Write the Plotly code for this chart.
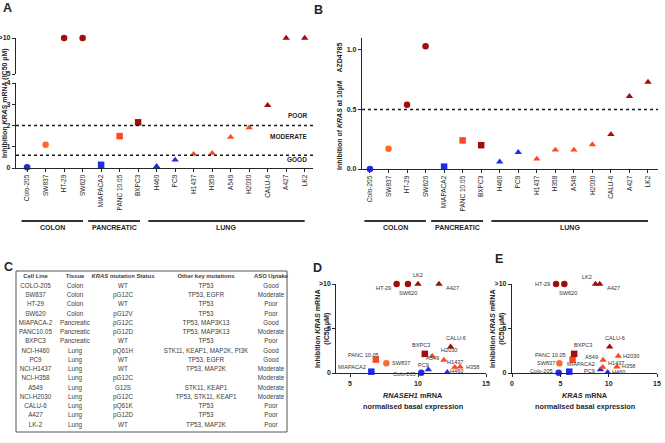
import plotly.graph_objects as go

# ---- data ----
cell_lines = ["Colo-205", "SW837", "HT-29", "SW620", "MIAPACA2", "PANC 10.05", "BXPC3",
              "H460", "PC9", "H1437", "H358", "A549", "H2030", "CALU-6", "A427", "LK2"]
tissue = ["Colon"] * 4 + ["Pancreatic"] * 3 + ["Lung"] * 9
aso_uptake = ["Good", "Moderate", "Poor", "Poor", "Good", "Moderate", "Poor", "Good",
              "Good", "Moderate", "Moderate", "Moderate", "Moderate", "Poor", "Poor", "Poor"]
ic50_um = [0.03, 1.1, 10, 10, 0.15, 1.5, 2.15, 0.08, 0.38, 0.65, 0.7, 1.45, 1.9, 2.95, 10, 10]
inhib_10um = [0.0, 0.17, 0.54, 1.03, 0.02, 0.24, 0.20, 0.06, 0.14, 0.085, 0.16, 0.16, 0.205, 0.29, 0.61, 0.73]
rnaseh1_expr = [10.24, 7.67, 8.43, 9.26, 6.57, 6.9, 10.5, 12.15, 10.76, 12.7, 13.1, 11.9, 11.05, 12.4, 11.54, 10.0]
kras_expr = [4.83, 4.9, 4.56, 5.41, 5.92, 6.26, 6.43, 9.9, 9.15, 9.39, 10.85, 9.42, 11.0, 10.1, 9.08, 8.64]

ic50_thresholds = [0.6, 2.0]
zone_names = ["GOOD", "MODERATE", "POOR"]
inhib_threshold = 0.5
group_names = ["COLON", "PANCREATIC", "LUNG"]

table_header = ["Cell Line", "Tissue", "<i>KRAS</i> mutation Status", "Other key mutations", "ASO Uptake"]
table_cell_line = ["COLO-205", "SW837", "HT-29", "SW620", "MIAPACA-2", "PANC10.05", "BXPC3", "NCI-H460",
                   "PC9", "NCI-H1437", "NCI-H358", "A549", "NCI-H2030", "CALU-6", "A427", "LK-2"]
table_kras_status = ["WT", "pG12C", "WT", "pG12V", "pG12C", "pG12D", "WT", "pQ61H", "WT", "WT",
                     "pG12C", "G12S", "pG12C", "pQ61K", "pG12D", "WT"]
table_other_mut = ["TP53", "TP53, EGFR", "TP53", "TP53", "TP53, MAP3K13", "TP53, MAP3K13", "TP53",
                   "STK11, KEAP1, MAP2K, PI3K", "TP53, EGFR", "TP53, MAP2K", "", "STK11, KEAP1",
                   "TP53, STK11, KEAP1", "TP53", "TP53", "TP53, MAP2K"]

# ---- styling ----
W, H = 665, 443
def px(x): return x / W
def py(y): return 1 - y / H

FONT = "Liberation Sans, Arial, sans-serif"
INK = "#262626"
SYMBOLS = {"Colon": "circle", "Pancreatic": "square", "Lung": "triangle-up"}
COLORS = {"Good": "#1f2ee6", "Moderate": "#ff4722", "Poor": "#a00d0d"}

def colour(t, u):
    if t == "Colon" and u == "Moderate":
        return "#ff6a2c"
    return COLORS[u]

mcol = [colour(t, u) for t, u in zip(tissue, aso_uptake)]
msym = [SYMBOLS[t] for t in tissue]
MS = 6.5

fig = go.Figure()

# ---- panel A (broken y axis) ----
low = [i for i, v in enumerate(ic50_um) if v < 5]
high = [i for i, v in enumerate(ic50_um) if v >= 5]
for idx, ya in ((low, "y"), (high, "y2")):
    fig.add_trace(go.Scatter(
        x=[cell_lines[i] for i in idx], y=[ic50_um[i] for i in idx],
        xaxis="x", yaxis=ya, mode="markers", cliponaxis=False,
        marker=dict(size=MS, color=[mcol[i] for i in idx], symbol=[msym[i] for i in idx])))

# ---- panel B ----
fig.add_trace(go.Scatter(x=cell_lines, y=inhib_10um, xaxis="x2", yaxis="y3", mode="markers",
                         cliponaxis=False, marker=dict(size=MS, color=mcol, symbol=msym)))

# ---- panel C (table as text on hidden axes) ----
col_centers = [19.5, 59, 107, 190, 255]
table_cols = [table_cell_line, tissue, table_kras_status, table_other_mut, aso_uptake]
for cx, head, vals in zip(col_centers, table_header, table_cols):
    fig.add_trace(go.Scatter(
        x=[cx] * (len(vals) + 1), y=list(range(len(vals) + 1)),
        text=["<b>" + head + "</b>"] + vals, mode="text", xaxis="x3", yaxis="y4",
        cliponaxis=False,
        textfont=dict(family=FONT, size=[5.9] + [6.3] * len(vals), color="#3c3c3c"),
        hoverinfo="skip"))

# ---- panels D and E ----
for xa, ya, xv in (("x4", "y5", rnaseh1_expr), ("x5", "y6", kras_expr)):
    fig.add_trace(go.Scatter(x=xv, y=ic50_um, xaxis=xa, yaxis=ya, mode="markers",
                             cliponaxis=False, marker=dict(size=MS, color=mcol, symbol=msym)))

axis_common = dict(showline=True, linecolor=INK, linewidth=1.3, ticks="outside", ticklen=3,
                   tickcolor=INK, showgrid=False, zeroline=False, automargin=False,
                   tickfont=dict(family=FONT, size=7, color=INK, weight="bold"))
cat_axis = dict(axis_common, type="category", categoryorder="array", categoryarray=cell_lines,
                tickangle=-90, tickfont=dict(family=FONT, size=6.5, color=INK))

fig.update_layout(
    width=W, height=H, margin=dict(l=0, r=0, t=0, b=0, autoexpand=False),
    paper_bgcolor="white", plot_bgcolor="white", showlegend=False,
    xaxis=dict(cat_axis, domain=[px(16), px(313)], anchor="y", range=[-0.6, 15.45]),
    yaxis=dict(axis_common, domain=[py(168), py(83)], anchor="x", range=[0, 4], dtick=1),
    yaxis2=dict(axis_common, domain=[py(74), py(38)], anchor="x", range=[5, 10],
                tickvals=[5, 10], ticktext=["5", ">10"]),
    xaxis2=dict(cat_axis, domain=[px(362), px(658)], anchor="y3", range=[-0.43, 15.54]),
    yaxis3=dict(axis_common, domain=[py(169), py(38)], anchor="x2", range=[0, 1.1],
                tickvals=[0, 0.5, 1.0], tickformat=".1f"),
    xaxis3=dict(domain=[px(16), px(287)], anchor="y4", range=[0, 271], visible=False),
    yaxis4=dict(domain=[py(432), py(271)], anchor="x3", range=[16.76, -0.65], visible=False),
    xaxis4=dict(axis_common, domain=[px(336.4), px(486)], anchor="y5", range=[4, 15],
                tickvals=[5, 10, 15]),
    yaxis5=dict(axis_common, domain=[py(373), py(284)], anchor="x4", range=[0, 10],
                tickvals=[0, 5, 10], ticktext=["0", "5", ">10"]),
    xaxis5=dict(axis_common, domain=[px(512), px(657)], anchor="y6", range=[0, 15],
                tickvals=[0, 5, 10, 15]),
    yaxis6=dict(axis_common, domain=[py(373), py(284)], anchor="x5", range=[0, 10],
                tickvals=[0, 5, 10], ticktext=["0", "5", ">10"]),
)

shapes = []
ann = []

def note(text, x, y, size=7, bold=True, **kw):
    d = dict(text=text, x=x, y=y, xref=kw.pop("xref", "paper"), yref=kw.pop("yref", "paper"),
             showarrow=False, xanchor=kw.pop("xanchor", "center"), yanchor=kw.pop("yanchor", "middle"),
             font=dict(family=FONT, size=size, color=kw.pop("color", INK),
                       weight="bold" if bold else "normal"))
    d.update(kw)
    ann.append(d)

# threshold lines
for t in ic50_thresholds:
    shapes.append(dict(type="line", xref="x domain", yref="y", x0=0, x1=1, y0=t, y1=t,
                       line=dict(color="#1a1a1a", width=1.4, dash="dot")))
zone_y = [0.38, 1.46, 2.49]
for name, zy in zip(zone_names, zone_y):
    note(name, 0.985, zy, size=6.5, xref="x domain", yref="y", xanchor="right")
shapes.append(dict(type="line", xref="x2 domain", yref="y3", x0=0, x1=1, y0=inhib_threshold,
                   y1=inhib_threshold, line=dict(color="#1a1a1a", width=1.4, dash="dot")))

# tissue group bars under A and B
group_pad = {"COLON": (-0.3, 0.02), "PANCREATIC": (-0.7, 0.1), "LUNG": (-0.45, 0.0)}
for xa in ("x", "x2"):
    for g in group_names:
        idx = [i for i, t in enumerate(tissue) if t.upper() == g]
        x0 = idx[0] + group_pad[g][0]
        x1 = idx[-1] + group_pad[g][1]
        shapes.append(dict(type="line", xref=xa, yref="paper", x0=x0, x1=x1, y0=py(221), y1=py(221),
                           line=dict(color="#333333", width=2)))
        note(g, (x0 + x1) / 2, py(227.5), size=7, xref=xa)

# axis titles
note("Inhibition <i>KRAS</i> mRNA (IC50 µM)", px(5), py(103), size=7, textangle=-90)
note("Inhibition of <i>KRAS</i> at 10µM\u00a0\u00a0\u00a0\u00a0AZD4785", px(340), py(107), size=7,
     textangle=-90)
note("Inhibition <i>KRAS</i> mRNA<br>(IC50 µM)", px(322), py(329), size=7.2, textangle=-90)
note("Inhibition <i>KRAS</i> mRNA<br>(IC50 µM)", px(497), py(329), size=7.2, textangle=-90)
note("<i>RNASEH1</i> mRNA", px(413), py(395), size=7.3)
note("normalised basal expression", px(413), py(406), size=7.3)
note("<i>KRAS</i> mRNA", px(585), py(395), size=7.3)
note("normalised basal expression", px(585), py(406), size=7.3)

# panel letters
for letter, lx, ly in (("A", 7, 8), ("B", 318, 10), ("C", 8, 267), ("D", 317, 268), ("E", 499, 259)):
    note(letter, px(lx), py(ly), size=12.5)

# table border
shapes.append(dict(type="rect", xref="paper", yref="paper", x0=px(16), x1=px(287), y0=py(432),
                   y1=py(271), line=dict(color="#555555", width=1)))

# point labels in D and E
d_pos = {
    "HT-29": ("right", "middle", -4, -4), "SW620": ("center", "top", 0, -4),
    "LK2": ("center", "bottom", 0, 4), "A427": ("left", "middle", 5, -4),
    "CALU-6": ("center", "bottom", 5, 4), "BXPC3": ("center", "bottom", -4, 4),
    "H2030": ("left", "middle", 7, 6), "A549": ("right", "middle", -3, 2),
    "H1437": ("center", "middle", 0, 5), "H358": ("left", "middle", 4, 0),
    "H460": ("left", "middle", 1, 1), "PC9": ("right", "bottom", 3, 0),
    "Colo-205": ("right", "middle", -3, -1), "MIAPACA2": ("right", "middle", -3, 5),
    "PANC 10.05": ("right", "middle", 5, 5), "SW837": ("left", "middle", 4, 0),
}
e_pos = {
    "HT-29": ("right", "middle", -4, 0), "SW620": ("center", "top", 4, -4),
    "LK2": ("right", "bottom", -2, 2), "A427": ("left", "middle", 5, -4),
    "CALU-6": ("center", "bottom", 5, 4), "H2030": ("left", "middle", 3, 0),
    "BXPC3": ("left", "bottom", -2, 4), "PANC 10.05": ("right", "middle", -5, 5),
    "SW837": ("right", "middle", -2, 0), "MIAPACA2": ("left", "bottom", -4, 3),
    "Colo-205": ("right", "middle", -4, 2), "A549": ("right", "middle", -3, 3),
    "H1437": ("left", "middle", 3, 4), "PC9": ("right", "middle", -3, -1),
    "H460": ("left", "middle", 2, 0), "H358": ("left", "middle", 3, 1),
}
for xa, ya, xv, pos in (("x4", "y5", rnaseh1_expr, d_pos), ("x5", "y6", kras_expr, e_pos)):
    for name, xx, yy in zip(cell_lines, xv, ic50_um):
        xan, yan, xs, ys = pos[name]
        note(name, xx, yy, size=5.6, bold=False, xref=xa, yref=ya, xanchor=xan, yanchor=yan,
             xshift=xs, yshift=ys, color="#333333")

fig.update_layout(shapes=shapes, annotations=ann)
# the page body has a default 8px margin; drop it so the figure fills the window
fig.write_html("out.html", config={"displayModeBar": False},
               post_script="document.body.style.margin = '0';")
